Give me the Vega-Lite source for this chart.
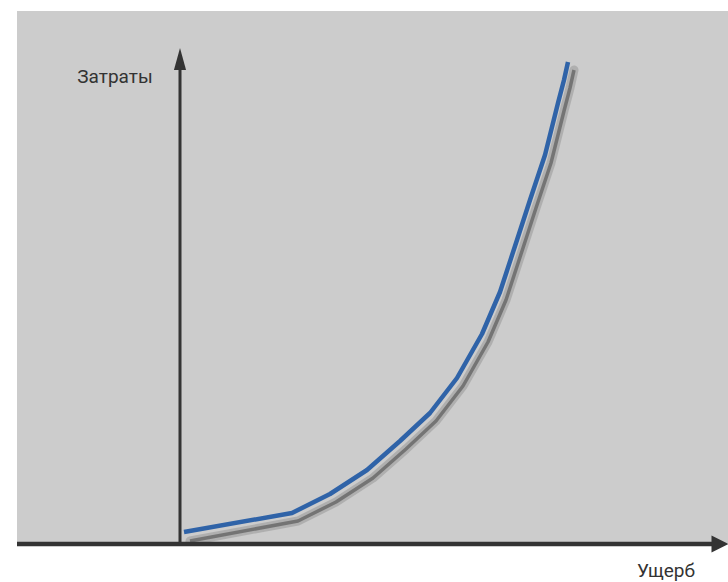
{
  "$schema": "https://vega.github.io/schema/vega-lite/v6.json",
  "width": 711,
  "height": 532,
  "autosize": {"type": "none"},
  "padding": {"left": 17, "top": 11, "right": 0, "bottom": 39},
  "background": "#ffffff",
  "view": {"fill": "#cccccc", "stroke": null},
  "datasets": {
    "curve": [
      {"series": "curve", "damage": 4, "cost": 11},
      {"series": "curve", "damage": 112, "cost": 30},
      {"series": "curve", "damage": 150, "cost": 49},
      {"series": "curve", "damage": 187, "cost": 73},
      {"series": "curve", "damage": 220, "cost": 102},
      {"series": "curve", "damage": 250, "cost": 130},
      {"series": "curve", "damage": 277, "cost": 165},
      {"series": "curve", "damage": 302, "cost": 209},
      {"series": "curve", "damage": 320, "cost": 251},
      {"series": "curve", "damage": 337, "cost": 303},
      {"series": "curve", "damage": 350, "cost": 343},
      {"series": "curve", "damage": 365, "cost": 388},
      {"series": "curve", "damage": 378, "cost": 440},
      {"series": "curve", "damage": 384, "cost": 463},
      {"series": "curve", "damage": 388, "cost": 481},
      {"series": "shadow", "damage": 10, "cost": 2},
      {"series": "shadow", "damage": 118, "cost": 22},
      {"series": "shadow", "damage": 156, "cost": 41},
      {"series": "shadow", "damage": 193, "cost": 65},
      {"series": "shadow", "damage": 226, "cost": 94},
      {"series": "shadow", "damage": 256, "cost": 122},
      {"series": "shadow", "damage": 283, "cost": 157},
      {"series": "shadow", "damage": 308, "cost": 201},
      {"series": "shadow", "damage": 326, "cost": 243},
      {"series": "shadow", "damage": 343, "cost": 295},
      {"series": "shadow", "damage": 356, "cost": 335},
      {"series": "shadow", "damage": 371, "cost": 380},
      {"series": "shadow", "damage": 384, "cost": 432},
      {"series": "shadow", "damage": 390, "cost": 455},
      {"series": "shadow", "damage": 394, "cost": 473}
    ],
    "axes": [
      {"axis": "x", "x1": -163, "x2": 536, "y1": -1, "y2": -1},
      {"axis": "y", "x1": 0, "x2": 0, "y1": 0, "y2": 476}
    ],
    "arrows": [
      {"axis": "x", "damage": 540, "cost": -1},
      {"axis": "y", "damage": 0, "cost": 484}
    ],
    "labels": [
      {"label": "Затраты", "damage": -65, "cost": 460},
      {"label": "Ущерб", "damage": 486, "cost": -34}
    ]
  },
  "layer": [
    {
      "data": {"name": "curve"},
      "transform": [{"filter": "datum.series === 'shadow'"}],
      "mark": {"type": "line", "color": "#a6a6a6", "strokeWidth": 9, "opacity": 0.75, "interpolate": "linear", "strokeCap": "round", "strokeJoin": "round"},
      "encoding": {
        "x": {"field": "damage", "type": "quantitative", "scale": {"domain": [-163, 548], "nice": false, "zero": false}, "axis": null},
        "y": {"field": "cost", "type": "quantitative", "scale": {"domain": [0, 532], "nice": false, "zero": false}, "axis": null}
      }
    },
    {
      "data": {"name": "curve"},
      "transform": [{"filter": "datum.series === 'shadow'"}],
      "mark": {"type": "line", "color": "#6e6e6e", "strokeWidth": 3.5, "opacity": 0.9, "interpolate": "linear", "strokeJoin": "round"},
      "encoding": {
        "x": {"field": "damage", "type": "quantitative"},
        "y": {"field": "cost", "type": "quantitative"}
      }
    },
    {
      "data": {"name": "curve"},
      "transform": [{"filter": "datum.series === 'curve'"}],
      "mark": {"type": "line", "color": "#2f63a8", "strokeWidth": 4.5, "interpolate": "linear", "strokeJoin": "round"},
      "encoding": {
        "x": {"field": "damage", "type": "quantitative"},
        "y": {"field": "cost", "type": "quantitative"}
      }
    },
    {
      "data": {"name": "axes"},
      "transform": [{"filter": "datum.axis === 'x'"}],
      "mark": {"type": "rule", "color": "#333333", "strokeWidth": 4.5},
      "encoding": {
        "x": {"field": "x1", "type": "quantitative"},
        "x2": {"field": "x2"},
        "y": {"field": "y1", "type": "quantitative"}
      }
    },
    {
      "data": {"name": "axes"},
      "transform": [{"filter": "datum.axis === 'y'"}],
      "mark": {"type": "rule", "color": "#333333", "strokeWidth": 3},
      "encoding": {
        "x": {"field": "x1", "type": "quantitative"},
        "y": {"field": "y1", "type": "quantitative"},
        "y2": {"field": "y2"}
      }
    },
    {
      "data": {"name": "arrows"},
      "transform": [{"filter": "datum.axis === 'x'"}],
      "mark": {"type": "point", "shape": "M1,0L-1,-1L-1,1Z", "size": 289, "filled": true, "color": "#333333", "opacity": 1},
      "encoding": {
        "x": {"field": "damage", "type": "quantitative"},
        "y": {"field": "cost", "type": "quantitative"}
      }
    },
    {
      "data": {"name": "arrows"},
      "transform": [{"filter": "datum.axis === 'y'"}],
      "mark": {"type": "point", "shape": "M0,-1L0.55,1L-0.55,1Z", "size": 484, "filled": true, "color": "#333333", "opacity": 1},
      "encoding": {
        "x": {"field": "damage", "type": "quantitative"},
        "y": {"field": "cost", "type": "quantitative"}
      }
    },
    {
      "data": {"name": "labels"},
      "mark": {"type": "text", "font": "Roboto", "fontSize": 19, "color": "#333333", "align": "center", "baseline": "alphabetic"},
      "encoding": {
        "x": {"field": "damage", "type": "quantitative"},
        "y": {"field": "cost", "type": "quantitative"},
        "text": {"field": "label"}
      }
    }
  ]
}
